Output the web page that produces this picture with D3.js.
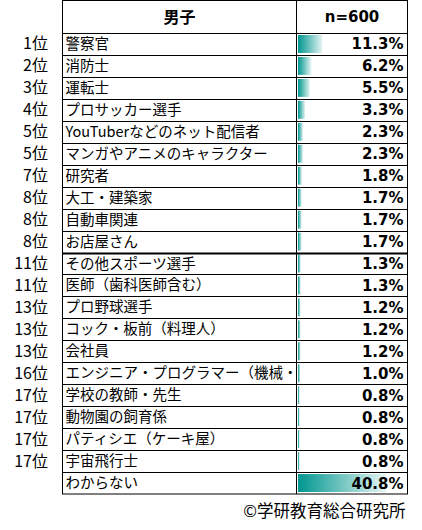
<!DOCTYPE html>
<html>
<head>
<meta charset="utf-8">
<script src="https://cdn.jsdelivr.net/npm/d3@7"></script>
<style>
  body { margin: 0; background: #fff; }
  svg { display: block; }
  text { font-family: "Noto Sans CJK JP", "Noto Sans", sans-serif; fill: #000; }
  .num { font-family: "DejaVu Sans", Verdana, sans-serif; font-weight: bold; }
</style>
</head>
<body>
<svg width="422" height="530"></svg>
<script>
  // 男子の将来なりたい職業ランキング
  const headLabel = "男子";
  const headN = "n=600";
  const ranks = ["1位", "2位", "3位", "4位", "5位", "5位", "7位", "8位", "8位", "8位",
    "11位", "11位", "13位", "13位", "13位", "16位", "17位", "17位", "17位", "17位", ""];
  const jobs = ["警察官", "消防士", "運転士", "プロサッカー選手", "YouTuberなどのネット配信者",
    "マンガやアニメのキャラクター", "研究者", "大工・建築家", "自動車関連", "お店屋さん",
    "その他スポーツ選手", "医師（歯科医師含む）", "プロ野球選手", "コック・板前（料理人）",
    "会社員", "エンジニア・プログラマー（機械・技術者）", "学校の教師・先生", "動物園の飼育係",
    "パティシエ（ケーキ屋）", "宇宙飛行士", "わからない"];
  const values = [11.3, 6.2, 5.5, 3.3, 2.3, 2.3, 1.8, 1.7, 1.7, 1.7,
    1.3, 1.3, 1.2, 1.2, 1.2, 1.0, 0.8, 0.8, 0.8, 0.8, 40.8];
  const credit = "©学研教育総合研究所";

  const svg = d3.select("svg");
  const tLeft = 62.5, tMid = 296.5, tRight = 407.5, tTop = 0.5, headBottom = 33, tBottom = 494;

  const y = d3.scaleBand()
    .domain(d3.range(values.length))
    .range([headBottom, tBottom]);

  const x = d3.scaleLinear()
    .domain([0, d3.max(values)])
    .range([0, 88]);

  const defs = svg.append("defs");
  const grad = defs.append("linearGradient").attr("id", "bar");
  grad.append("stop").attr("offset", "0%").attr("stop-color", "#00968f");
  grad.append("stop").attr("offset", "100%").attr("stop-color", "#e6f5f4");

  defs.append("clipPath").attr("id", "labelClip")
    .append("rect")
    .attr("x", tLeft).attr("y", 0)
    .attr("width", tMid - tLeft - 1).attr("height", 530);

  // bars
  svg.append("g")
    .selectAll("rect")
    .data(values)
    .enter()
    .append("rect")
    .attr("x", tMid + 1.5)
    .attr("y", (d, i) => y(i) + 2)
    .attr("width", d => Math.max(1.5, x(d)))
    .attr("height", y.bandwidth() - 4)
    .attr("fill", "url(#bar)");

  // grid lines
  const lines = svg.append("g")
    .attr("stroke", "#000")
    .attr("fill", "none");

  lines.append("rect")
    .attr("x", tLeft).attr("y", tTop)
    .attr("width", tRight - tLeft).attr("height", tBottom - tTop);

  lines.append("line")
    .attr("x1", tMid).attr("x2", tMid)
    .attr("y1", tTop).attr("y2", tBottom);

  lines.selectAll(".row")
    .data(d3.range(values.length))
    .enter()
    .append("line")
    .attr("x1", tLeft).attr("x2", tRight)
    .attr("y1", i => Math.round(y(i)) + 0.5)
    .attr("y2", i => Math.round(y(i)) + 0.5)
    .attr("stroke-width", i => (i === 10 ? 2 : 1));

  // header
  svg.append("text")
    .attr("x", (tLeft + tMid) / 2).attr("y", 23)
    .attr("text-anchor", "middle")
    .attr("font-size", 16)
    .attr("font-weight", "bold")
    .text(headLabel);

  svg.append("text")
    .attr("class", "num")
    .attr("x", (tMid + tRight) / 2).attr("y", 22)
    .attr("text-anchor", "middle")
    .attr("font-size", 15)
    .text(headN);

  // ranks
  svg.append("g")
    .selectAll("text")
    .data(ranks)
    .enter()
    .append("text")
    .attr("x", 48)
    .attr("y", (d, i) => y(i) + y.bandwidth() / 2 + 5.5)
    .attr("text-anchor", "end")
    .attr("font-size", 16)
    .text(d => d);

  // job labels
  svg.append("g")
    .attr("clip-path", "url(#labelClip)")
    .selectAll("text")
    .data(jobs)
    .enter()
    .append("text")
    .attr("x", tLeft + 3)
    .attr("y", (d, i) => y(i) + y.bandwidth() / 2 + 5)
    .attr("font-size", 14.5)
    .text(d => d);

  // values
  svg.append("g")
    .selectAll("text")
    .data(values)
    .enter()
    .append("text")
    .attr("class", "num")
    .attr("x", tRight - 4)
    .attr("y", (d, i) => y(i) + y.bandwidth() / 2 + 5.5)
    .attr("text-anchor", "end")
    .attr("font-size", 15)
    .text(d => d.toFixed(1) + "%");

  svg.append("text")
    .attr("x", tRight - 2).attr("y", 517)
    .attr("text-anchor", "end")
    .attr("font-size", 16.5)
    .text(credit);
</script>
</body>
</html>
